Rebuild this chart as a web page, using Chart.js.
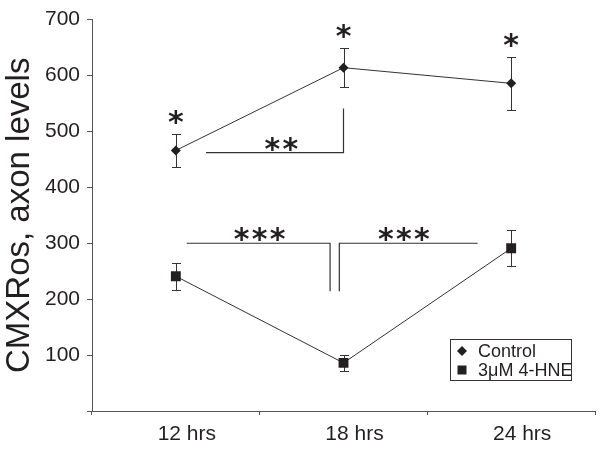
<!DOCTYPE html>
<html>
<head>
<meta charset="utf-8">
<script src="https://cdn.jsdelivr.net/npm/chart.js@4.4.1/dist/chart.umd.min.js"></script>
<style>
  html, body { margin: 0; padding: 0; background: #fff; }
</style>
</head>
<body>
<canvas id="c" width="602" height="453"></canvas>
<script>
// data
const timeLabels = ["12 hrs", "18 hrs", "24 hrs"];
const controlVals = [466, 614, 586];
const controlErr = [30, 35, 47];
const hneVals = [241, 86, 291];
const hneErr = [24, 15, 32];
const controlStars = ["*", "*", "*"];
const yMin = 0, yMax = 700, yStep = 100;
// significance brackets, in category index / value units
const bracketPaths = [
  [[0.18, 462], [1.0, 462], [1.0, 541]],
  [[0.065, 300], [0.92, 300], [0.92, 214]],
  [[0.975, 214], [0.975, 300], [1.8, 300]]
];
const bracketLabels = ["**", "***", "***"];
const bracketLabelAt = [[0.63, 462], [0.5, 300], [1.36, 300]];

const ink = "#231f20";
const axisCol = "#555";
const fontFam = '"Liberation Sans", Arial, sans-serif';

function drawStars(ctx, str, cx, bottomY) {
  ctx.font = 'bold 30px "DejaVu Sans", sans-serif';
  ctx.textAlign = "center";
  ctx.textBaseline = "alphabetic";
  const m = ctx.measureText("*");
  const base = bottomY - m.actualBoundingBoxDescent;
  const step = 18;
  for (let k = 0; k < str.length; k++) {
    ctx.fillText("*", cx + (k - (str.length - 1) / 2) * step, base);
  }
}

const errorBars = {
  id: "errorBars",
  beforeDatasetsDraw(chart) {
    const ctx = chart.ctx;
    const x = chart.scales.x, y = chart.scales.y;
    ctx.save();
    ctx.strokeStyle = "#333";
    ctx.lineWidth = 1;
    const draw = (vals, errs) => vals.forEach((v, i) => {
      const px = Math.round(x.getPixelForValue(i)) + 0.5;
      const t = Math.round(y.getPixelForValue(v + errs[i])) + 0.5;
      const b = Math.round(y.getPixelForValue(v - errs[i])) + 0.5;
      ctx.beginPath();
      ctx.moveTo(px, t); ctx.lineTo(px, b);
      ctx.moveTo(px - 4.5, t); ctx.lineTo(px + 4.5, t);
      ctx.moveTo(px - 4.5, b); ctx.lineTo(px + 4.5, b);
      ctx.stroke();
    });
    draw(controlVals, controlErr);
    draw(hneVals, hneErr);
    ctx.restore();
  }
};

const annotations = {
  id: "annotations",
  afterDatasetsDraw(chart) {
    const ctx = chart.ctx;
    const x = chart.scales.x, y = chart.scales.y;
    ctx.save();
    ctx.strokeStyle = "#333";
    ctx.fillStyle = ink;
    ctx.lineWidth = 1.2;
    // brackets
    bracketPaths.forEach(path => {
      ctx.beginPath();
      path.forEach((p, k) => {
        const px = x.getPixelForValue(p[0]), py = y.getPixelForValue(p[1]);
        if (k === 0) ctx.moveTo(px, py); else ctx.lineTo(px, py);
      });
      ctx.stroke();
    });
    bracketLabels.forEach((s, i) => {
      const at = bracketLabelAt[i];
      drawStars(ctx, s, x.getPixelForValue(at[0]), y.getPixelForValue(at[1]) - 1);
    });
    // stars over control points
    controlStars.forEach((s, i) => {
      const top = y.getPixelForValue(controlVals[i] + controlErr[i]);
      drawStars(ctx, s, x.getPixelForValue(i), top - 9);
    });

    // legend box
    const lx = 450, ly = 339, lw = 121, lh = 41;
    ctx.lineWidth = 1;
    ctx.strokeStyle = "#333";
    ctx.strokeRect(lx + 0.5, ly + 0.5, lw, lh);
    ctx.font = "18px " + fontFam;
    ctx.textAlign = "left";
    ctx.textBaseline = "middle";
    chart.data.datasets.forEach((ds, i) => {
      const cy = ly + 12 + i * 19;
      ctx.beginPath();
      if (ds.pointStyle === "rectRot") {
        ctx.moveTo(lx + 12, cy - 5); ctx.lineTo(lx + 17, cy);
        ctx.lineTo(lx + 12, cy + 5); ctx.lineTo(lx + 7, cy);
        ctx.closePath();
      } else {
        ctx.rect(lx + 7.5, cy - 4.5, 9, 9);
      }
      ctx.fill();
      ctx.fillText(ds.label, lx + 28, cy + 1);
    });
    ctx.restore();
  }
};

new Chart(document.getElementById("c"), {
  type: "line",
  data: {
    labels: timeLabels,
    datasets: [
      {
        label: "Control",
        data: controlVals,
        borderColor: "#333",
        borderWidth: 1,
        tension: 0,
        pointStyle: "rectRot",
        pointRadius: 5,
        pointBackgroundColor: ink,
        pointBorderColor: ink,
        pointBorderWidth: 0
      },
      {
        label: "3\u03bcM 4-HNE",
        data: hneVals,
        borderColor: "#333",
        borderWidth: 1,
        tension: 0,
        pointStyle: "rect",
        pointRadius: 7,
        pointBackgroundColor: ink,
        pointBorderColor: ink,
        pointBorderWidth: 0
      }
    ]
  },
  options: {
    responsive: false,
    animation: false,
    layout: { padding: { top: 19, right: 5, left: 0, bottom: 0 } },
    plugins: {
      legend: { display: false },
      tooltip: { enabled: false }
    },
    scales: {
      x: {
        offset: true,
        grid: { offset: true, drawOnChartArea: false, tickLength: 4, color: axisCol },
        border: { color: axisCol, width: 1 },
        ticks: { color: ink, font: { family: fontFam, size: 21 }, padding: 7, labelOffset: 11 },
        afterFit(scale) { scale.height = 42; }
      },
      y: {
        min: yMin,
        max: yMax,
        grid: { drawOnChartArea: false, tickLength: 5, color: axisCol },
        border: { color: axisCol, width: 1 },
        ticks: {
          stepSize: yStep,
          color: ink,
          font: { family: fontFam, size: 21 },
          padding: 7,
          callback: v => (v === 0 ? "" : v)
        },
        title: {
          display: true,
          text: "CMXRos, axon levels",
          color: ink,
          font: { family: fontFam, size: 33 },
          padding: { top: 0, bottom: 0 }
        },
        afterFit(scale) { scale.width = 92; }
      }
    }
  },
  plugins: [errorBars, annotations]
});
</script>
</body>
</html>
